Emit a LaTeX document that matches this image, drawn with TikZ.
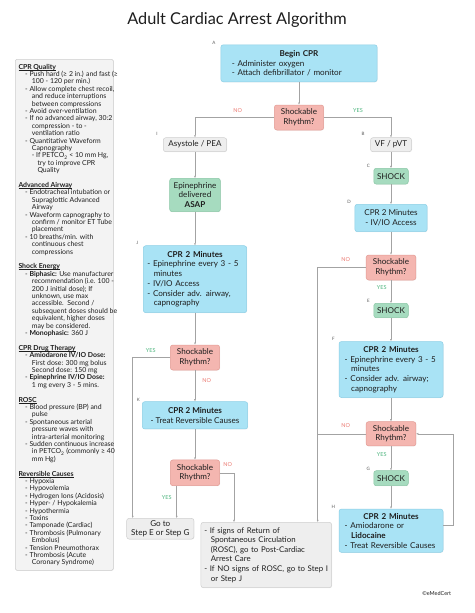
\documentclass[tikz,border=0pt]{standalone}
\usepackage{fontspec}
\setmainfont{Lato}
\usetikzlibrary{arrows.meta,shadows}
\definecolor{cBlue}{HTML}{A9E3F5}
\definecolor{cBlueD}{HTML}{8DCFE6}
\definecolor{cPink}{HTML}{F4B6B0}
\definecolor{cPinkD}{HTML}{E39C95}
\definecolor{cGreen}{HTML}{A6DBBF}
\definecolor{cGreenD}{HTML}{8BC8A6}
\definecolor{cGray}{HTML}{EEEEEE}
\definecolor{cGrayD}{HTML}{CFCFCF}
\definecolor{cSide}{HTML}{F3F3F3}
\definecolor{cLine}{HTML}{A3A3A3}
\definecolor{cNo}{HTML}{EC7B73}
\definecolor{cYes}{HTML}{4DB57E}
\definecolor{cTxt}{HTML}{1E1E1E}
\newcommand\sbA{\hspace*{6.7pt}}
\newcommand\sbB{\hspace*{13.4pt}}
\newcommand\sbC{\hspace*{19pt}}
\newcommand\hind{\hspace*{6.5pt}}
\newcommand\hdr[1]{\makebox[\hsize][c]{\textbf{#1}}}
\newcommand\sidefont{\fontsize{6.9}{7.4}\selectfont\lineskiplimit=-10pt\relax}
\newsavebox\sbhbox
\newcommand\sbhead[1]{\sbox\sbhbox{\textbf{#1}}\rlap{\rule[-0.75pt]{\wd\sbhbox}{0.35pt}}\usebox\sbhbox}
\tikzset{
  box/.style={rounded corners=2.5pt, line width=0.5pt, text=cTxt, inner ysep=0pt,
    font=\fontsize{8.1}{9.7}\selectfont,
    drop shadow={shadow xshift=0.5pt, shadow yshift=-0.5pt, opacity=0.12}},
  bluebox/.style={box, fill=cBlue, draw=cBlueD},
  pinkbox/.style={box, fill=cPink, draw=cPinkD, align=center},
  greenbox/.style={box, fill=cGreen, draw=cGreenD, align=center},
  graybox/.style={box, fill=cGray, draw=cGrayD, align=center},
  conn/.style={draw=cLine, line width=0.6pt, -{Latex[length=2.2pt,width=2pt]}},
  plainline/.style={draw=cLine, line width=0.6pt},
  steplbl/.style={font=\fontsize{4.5}{5}\selectfont, text=black!65, inner sep=0pt},
  nolbl/.style={font=\fontsize{5.5}{6}\selectfont, text=cNo, inner sep=0pt},
  yeslbl/.style={font=\fontsize{5.5}{6}\selectfont, text=cYes, inner sep=0pt},
}
\begin{document}
\begin{tikzpicture}[x=1pt,y=-1pt]
\path[use as bounding box, fill=white] (0,0) rectangle (474,613);

% title
\node[font=\fontsize{16.3}{19}\selectfont, text=cTxt] (title) at (237,20) {Adult Cardiac Arrest Algorithm};

% sidebar
\node[rounded corners=1.5pt, fill=cSide, draw=cGrayD, line width=0.5pt, minimum width=98pt, minimum height=511pt,
  anchor=north west, drop shadow={shadow xshift=0.6pt, shadow yshift=-0.6pt, opacity=0.15}] (side) at (15,59) {};
\node[anchor=north west, inner sep=0pt, align=left, text=cTxt, font=\sidefont] (sidetext) at (18.3,63.8) {%
\sbhead{CPR Quality}\\
\sbA- Push hard (≥ 2 in.) and fast (≥\\
\sbB 100 - 120 per min.)\\
\sbA- Allow complete chest recoil,\\
\sbB and reduce interruptions\\
\sbB between compressions\\
\sbA- Avoid over-ventilation\\
\sbA- If no advanced airway, 30:2\\
\sbB compression - to -\\
\sbB ventilation ratio\\
\sbA- Quantitative Waveform\\
\sbB Capnography\\
\sbB - If PETCO\textsubscript{2} < 10 mm Hg,\\
\sbC try to improve CPR\\
\sbC Quality\\[7.4pt]
\sbhead{Advanced Airway}\\
\sbA- Endotracheal intubation or\\
\sbB Supraglottic Advanced\\
\sbB Airway\\
\sbA- Waveform capnography to\\
\sbB confirm / monitor ET Tube\\
\sbB placement\\
\sbA- 10 breaths/min. with\\
\sbB continuous chest\\
\sbB compressions\\[7.4pt]
\sbhead{Shock Energy}\\
\sbA- \textbf{Biphasic:} Use manufacturer\\
\sbB recommendation (i.e. 100 -\\
\sbB 200 J initial dose); If\\
\sbB unknown, use max\\
\sbB accessible.\ \ Second /\\
\sbB subsequent doses should be\\
\sbB equivalent, higher doses\\
\sbB may be considered.\\
\sbA- \textbf{Monophasic:} 360 J\\[7.4pt]
\sbhead{CPR Drug Therapy}\\
\sbA- \textbf{Amiodarone IV/IO Dose:}\\
\sbB First dose: 300 mg bolus\\
\sbB Second dose: 150 mg\\
\sbA- \textbf{Epinephrine IV/IO Dose:}\\
\sbB 1 mg every 3 - 5 mins.\\[7.4pt]
\sbhead{ROSC}\\
\sbA- Blood pressure (BP) and\\
\sbB pulse\\
\sbA- Spontaneous arterial\\
\sbB pressure waves with\\
\sbB intra-arterial monitoring\\
\sbA- Sudden continuous increase\\
\sbB in PETCO\textsubscript{2} (commonly ≥ 40\\
\sbB mm Hg)\\[7.4pt]
\sbhead{Reversible Causes}\\
\sbA- Hypoxia\\
\sbA- Hypovolemia\\
\sbA- Hydrogen Ions (Acidosis)\\
\sbA- Hyper- / Hypokalemia\\
\sbA- Hypothermia\\
\sbA- Toxins\\
\sbA- Tamponade (Cardiac)\\
\sbA- Thrombosis (Pulmonary\\
\sbB Embolus)\\
\sbA- Tension Pneumothorax\\
\sbA- Thrombosis (Acute\\
\sbB Coronary Syndrome)};

% flow nodes
\node[bluebox, minimum width=156.3pt, minimum height=37pt, text width=134.3pt, inner xsep=11pt, align=left] (A) at (299,63.3)
  {\hdr{Begin CPR}\\- Administer oxygen\\- Attach defibrillator / monitor};
\node[pinkbox, minimum width=49.3pt, minimum height=25pt] (S1) at (299,117.5) {Shockable\\Rhythm?};
\node[graybox, minimum width=63.4pt, minimum height=14pt] (I) at (195,144.7) {Asystole / PEA};
\node[graybox, minimum width=41pt, minimum height=14pt] (B) at (391,144.7) {VF / pVT};
\node[greenbox, minimum width=50.7pt, minimum height=33.4pt] (Epi) at (195,195) {Epinephrine\\delivered\\\textbf{ASAP}};
\node[greenbox, minimum width=33.4pt, minimum height=15.7pt] (C) at (391,176.2) {SHOCK};
\node[bluebox, minimum width=72.3pt, minimum height=27.4pt, align=center] (D) at (391,218) {CPR 2 Minutes\\- IV/IO Access};
\node[pinkbox, minimum width=49.7pt, minimum height=25pt] (S2) at (391,267.5) {Shockable\\Rhythm?};
\node[greenbox, minimum width=31.7pt, minimum height=14.4pt] (E) at (391,310.5) {SHOCK};
\node[bluebox, minimum width=104pt, minimum height=56pt, text width=92.6pt, inner xsep=5.7pt, align=left] (F) at (391,369.5)
  {\hdr{CPR 2 Minutes}\\- Epinephrine every 3 - 5\\\hind minutes\\- Consider adv. airway;\\\hind capnography};
\node[pinkbox, minimum width=49.7pt, minimum height=24.3pt] (S3) at (391,433.8) {Shockable\\Rhythm?};
\node[greenbox, minimum width=33.4pt, minimum height=15pt] (G) at (391,478.2) {SHOCK};
\node[bluebox, minimum width=104pt, minimum height=43.3pt, text width=92.6pt, inner xsep=5.7pt, align=left] (H) at (391,530.7)
  {\hdr{CPR 2 Minutes}\\- Amiodarone or\\\hind\textbf{Lidocaine}\\- Treat Reversible Causes};
\node[bluebox, minimum width=103.4pt, minimum height=67pt, text width=95.4pt, inner xsep=4pt, align=left] (J) at (195,279.2)
  {\hdr{CPR 2 Minutes}\\- Epinephrine every 3 - 5\\\hind minutes\\- IV/IO Access\\- Consider adv. airway,\\\hind capnography};
\node[pinkbox, minimum width=49.3pt, minimum height=25pt] (S4) at (195,357.5) {Shockable\\Rhythm?};
\node[bluebox, minimum width=105.4pt, minimum height=27.3pt, align=center] (K) at (195,415.3) {\textbf{CPR 2 Minutes}\\- Treat Reversible Causes};
\node[pinkbox, minimum width=49.3pt, minimum height=25.7pt] (S5) at (195,472.8) {Shockable\\Rhythm?};
\node[graybox, minimum width=67.3pt, minimum height=20.7pt] (Go) at (160.3,528.7) {Go to\\Step E or Step G};
\node[graybox, minimum width=130.7pt, minimum height=65.4pt, text width=123.9pt, inner xsep=3.4pt, align=left,
  font=\fontsize{7.85}{9.6}\selectfont] (ROSC) at (266.3,555)
  {- If signs of Return of\\\hind Spontaneous Circulation\\\hind \mbox{(ROSC), go to Post-Cardiac}\\\hind Arrest Care\\\mbox{- If NO signs of ROSC, go to Step I}\\\hind or Step J};

% step letters
\node[steplbl] (lA) at (214,43) {A};
\node[steplbl] (lI) at (157,134) {I};
\node[steplbl] (lB) at (363,134) {B};
\node[steplbl] (lC) at (368.3,165.7) {C};
\node[steplbl] (lD) at (349,202.3) {D};
\node[steplbl] (lE) at (368.3,301) {E};
\node[steplbl] (lF) at (333.3,339.3) {F};
\node[steplbl] (lG) at (368.3,469.3) {G};
\node[steplbl] (lH) at (333.3,506.7) {H};
\node[steplbl] (lJ) at (137.3,242.7) {J};
\node[steplbl] (lK) at (138.3,400) {K};

% yes/no labels
\node[nolbl] (n1) at (237.7,111) {NO};
\node[yeslbl] (y1) at (358,111) {YES};
\node[nolbl] (n2) at (345.7,259.3) {NO};
\node[yeslbl] (y2) at (381.7,287.3) {YES};
\node[nolbl] (n3) at (345.7,425.7) {NO};
\node[yeslbl] (y3) at (381.7,454.3) {YES};
\node[yeslbl] (y4) at (150.7,350.7) {YES};
\node[nolbl] (n4) at (206.7,380.7) {NO};
\node[nolbl] (n5) at (227.7,465) {NO};
\node[yeslbl] (y5) at (166.7,497.3) {YES};

% copyright
\node[font=\fontsize{5.5}{6}\selectfont, text=cTxt] (copy) at (436.7,593.3) {©eMedCert};

% helper coordinates
\coordinate (rx) at (317.7,0);
\coordinate (lx) at (132.7,0);
\coordinate (yx) at (176.7,0);
\coordinate (nx) at (234,0);
\coordinate (hl) at (453.3,525.7);

% connectors
\draw[conn] (A) -- (S1);
\draw[conn] (S1.west) -| (I.north);
\draw[conn] (S1.east) -| (B.north);
\draw[conn] (I) -- (Epi);
\draw[conn] (Epi) -- (J);
\draw[conn] (J) -- (S4);
\draw[conn] (S4) -- (K);
\draw[conn] (K) -- (S5);
\draw[conn] (B) -- (C);
\draw[conn] (C) -- (D);
\draw[conn] (D) -- (S2);
\draw[conn] (S2) -- (E);
\draw[conn] (E) -- (F);
\draw[conn] (F) -- (S3);
\draw[conn] (S3) -- (G);
\draw[conn] (G) -- (H);
\draw[conn] (S2.west) -| (rx |- ROSC.north);
\draw[plainline] (S3.west) -- (S3.west -| rx);
\draw[conn] (S4.west) -| (lx |- Go.north);
\draw[conn] (S5.south -| yx) -- (yx |- Go.north);
\draw[conn] (S5.east) -| (nx |- ROSC.north);
\draw[conn] (H.east |- hl) -- (hl) |- (S3.east);
\end{tikzpicture}
\end{document}
